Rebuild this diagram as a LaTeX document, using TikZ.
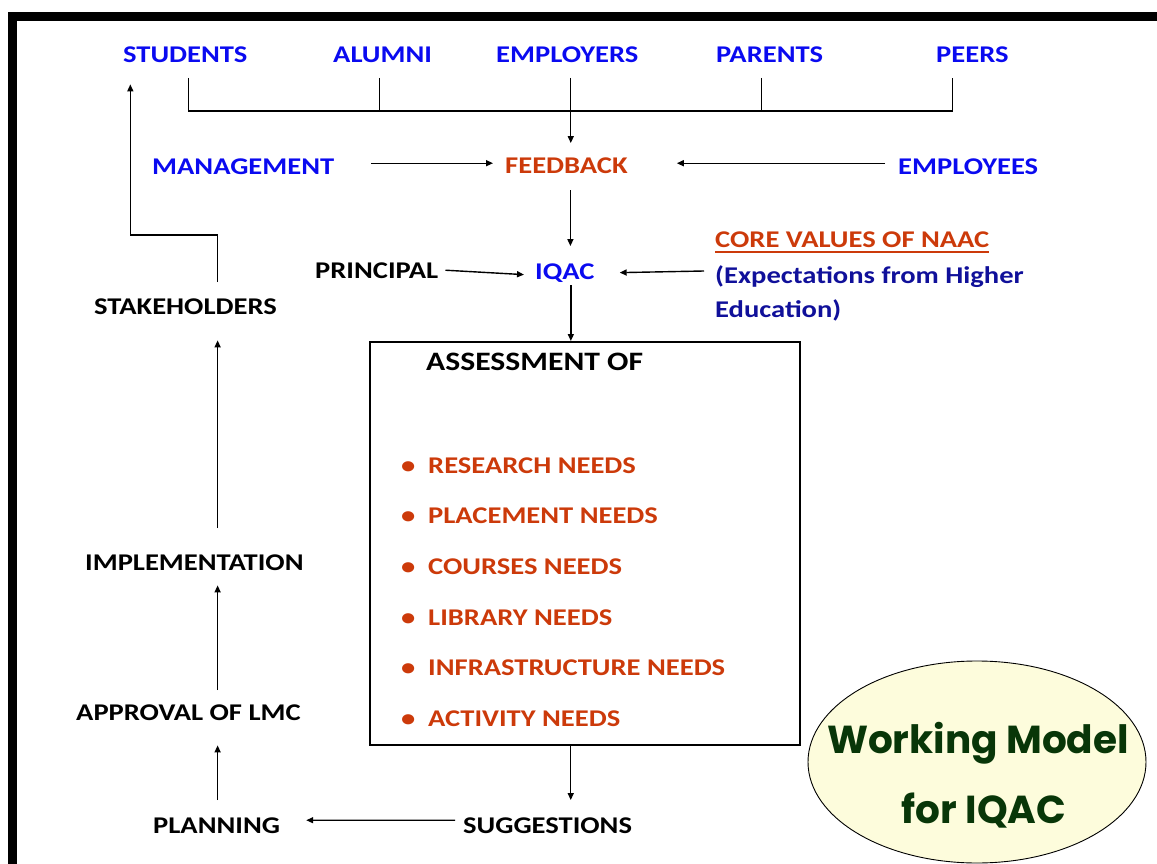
\documentclass[tikz,border=0pt]{standalone}
\usepackage{fontspec}
\setmainfont{Carlito}[FakeStretch=1.19]
\newfontfamily\wmfont{Poppins}
\usetikzlibrary{arrows.meta,shapes.geometric,calc}
\definecolor{cblue}{HTML}{0A0AF0}
\definecolor{corange}{HTML}{CC3A0A}
\definecolor{cnavy}{HTML}{10109A}
\definecolor{cgreen}{HTML}{083608}
\definecolor{cfill}{HTML}{FDFCDC}
\begin{document}
\begin{tikzpicture}[x=1pt,y=-1pt,
  font=\bfseries\fontsize{24}{28}\selectfont,
  lbl/.style={inner sep=0pt, anchor=base west},
  arr/.style={-{Triangle[length=7pt,width=6pt]}, line width=1.4pt},
  ln/.style={line width=1.4pt},
  needrow/.style={lbl, text=corange}]
\useasboundingbox (0,0) rectangle (1157,864);
% border
\fill[black] (8,12) rectangle (1157,21);
\fill[black] (8,12) rectangle (17,864);
% top stakeholders
\node[lbl,text=cblue] (students) at (123,63) {STUDENTS};
\node[lbl,text=cblue] (alumni) at (333,63) {ALUMNI};
\node[lbl,text=cblue] (employers) at (496,63) {EMPLOYERS};
\node[lbl,text=cblue] (parents) at (716,63) {PARENTS};
\node[lbl,text=cblue] (peers) at (936,63) {PEERS};
% feedback row
\node[lbl,text=cblue] (mgmt) at (152,175) {MANAGEMENT};
\node[lbl,text=corange] (fb) at (505,174) {FEEDBACK};
\node[lbl,text=cblue] (emp) at (898,175) {EMPLOYEES};
% iqac row
\node[lbl] (principal) at (315,278) {PRINCIPAL};
\node[lbl,text=cblue] (iqac) at (535,279) {IQAC};
\node[lbl,text=corange] (core) at (715,247) {CORE VALUES OF NAAC};
\draw[corange,line width=1.8pt] ($(core.base west)+(0,5)$) -- ($(core.base east)+(0,5)$);
\node[lbl,text=cnavy] (exp) at (715,283) {(Expectations from Higher};
\node[lbl,text=cnavy] (edu) at (715,317) {Education)};
% assessment box
\node[draw, line width=1.5pt, minimum width=430pt, minimum height=403pt, anchor=north west, inner sep=0pt] (box) at (369,341) {};
\node[lbl, font=\bfseries\fontsize{26.6}{30}\selectfont] (assess) at (426,370) {ASSESSMENT OF};
\foreach \yy/\txt/\nm in {473/RESEARCH NEEDS/n1, 523/PLACEMENT NEEDS/n2, 574/COURSES NEEDS/n3, 625/LIBRARY NEEDS/n4, 675/INFRASTRUCTURE NEEDS/n5, 726/ACTIVITY NEEDS/n6}{
  \node[needrow] (b\nm) at (401,\yy) {\textbullet};
  \node[needrow] (\nm) at (428,\yy) {\txt};
}
% cycle
\node[lbl] (sugg) at (463,833) {SUGGESTIONS};
\node[lbl] (plan) at (153,833) {PLANNING};
\node[lbl] (approval) at (76,720) {APPROVAL OF LMC};
\node[lbl] (impl) at (85,570) {IMPLEMENTATION};
\node[lbl] (stake) at (94,314) {STAKEHOLDERS};
% ellipse
\node[ellipse, draw, line width=0.9pt, fill=cfill, minimum width=338pt, minimum height=202pt] (wm) at (977,762) {};
\node[anchor=base, inner sep=0pt, text=cgreen, font=\wmfont\bfseries\fontsize{39}{41}\selectfont] (wm1) at (978,753) {Working Model};
\node[anchor=base, inner sep=0pt, text=cgreen, font=\wmfont\bfseries\fontsize{39}{41}\selectfont] (wm2) at (984,823) {for IQAC};
% bracket
\draw[ln] ($(students.base)+(3,15)$) -- ++(0,33) -| ($(peers.base)+(-20,15)$);
\draw[ln] ($(alumni.base)+(-3,15)$) -- ++(0,33);
\draw[ln] ($(parents.base)+(-8,15)$) -- ++(0,33);
\draw[arr] ($(employers.base)+(3.5,15)$) coordinate (e1) -- ($(e1 |- fb.north)+(0,-15)$);
% into feedback
\draw[arr] ($(mgmt.east)+(37,-4)$) -- ($(fb.west)+(-12,-3)$);
\draw[arr] ($(emp.west)+(-13,-4)$) -- ($(fb.east)+(49,-3)$);
\draw[arr] ($(fb.south)+(4,16)$) coordinate (f1) -- ($(f1 |- iqac.north)+(0,-17)$);
% into iqac
\draw[arr] ($(principal.east)+(7,0)$) -- ($(iqac.west)+(-11,2)$);
\draw[arr] ($(exp.base west)+(-11,-12)$) -- ($(iqac.east)+(25,0)$);
\draw[arr] ($(iqac.base)+(6,6)$) coordinate (i1) -- (i1 |- box.north);
% cycle arrows
\draw[arr] ($(box.south)+(-14,0)$) coordinate (s1) -- ($(s1 |- sugg.north)+(0,-17)$);
\draw[arr] ($(sugg.west)+(-8,-5)$) -- ($(plan.east)+(26,-5)$);
\draw[arr] ($(plan.north)+(1,-17)$) coordinate (p1) -- ($(p1 |- approval.south)+(0,25)$);
\draw[arr] ($(approval.north -| p1)+(0,-14)$) -- ($(impl.south -| p1)+(0,15)$);
\draw[arr] ($(impl.north -| p1)+(0,-26)$) -- ($(stake.south -| p1)+(0,26)$);
\draw[arr] ($(stake.north -| p1)+(0,-16)$) -- ++(0,-47) -| ($(students.south)+(-55,21)$);
\end{tikzpicture}
\end{document}
